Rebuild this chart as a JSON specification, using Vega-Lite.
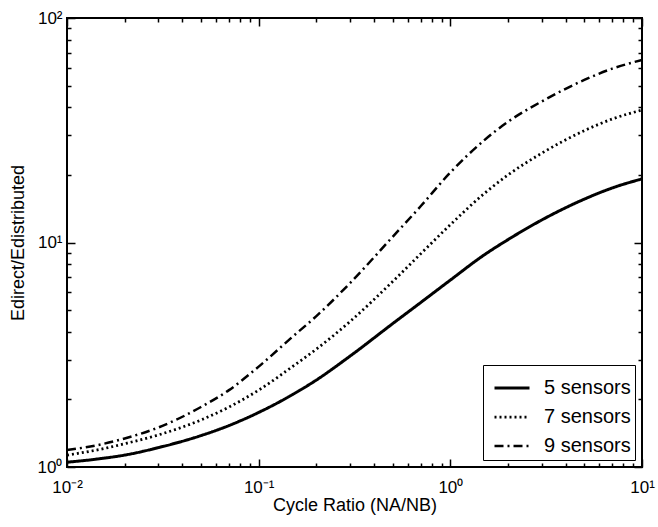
{
  "$schema": "https://vega.github.io/schema/vega-lite/v6.json",
  "width": 575,
  "height": 449,
  "autosize": "none",
  "padding": {"left": 67, "top": 18, "right": 16, "bottom": 60},
  "background": "white",
  "config": {
    "font": "Liberation Sans",
    "view": {"stroke": "black", "strokeWidth": 2},
    "axis": {"grid": false, "domain": false, "labelColor": "black", "titleColor": "black", "labelFontSize": 17, "titleFontSize": 18, "titleFontWeight": "normal", "tickColor": "black", "tickWidth": 1.5},
    "legend": {"orient": "bottom-right", "offset": 7, "strokeColor": "black", "fillColor": "white", "padding": 4, "symbolType": "stroke", "symbolSize": 1225, "symbolStrokeColor": "black", "symbolOffset": 6, "labelFontSize": 20, "labelColor": "black", "labelOffset": 13, "rowPadding": -14, "title": null}
  },
  "data": {"values": [
    {"ratio": 0.01, "e": 1.05, "series": "5 sensors"},
    {"ratio": 0.015, "e": 1.09, "series": "5 sensors"},
    {"ratio": 0.02, "e": 1.13, "series": "5 sensors"},
    {"ratio": 0.03, "e": 1.22, "series": "5 sensors"},
    {"ratio": 0.05, "e": 1.38, "series": "5 sensors"},
    {"ratio": 0.07, "e": 1.53, "series": "5 sensors"},
    {"ratio": 0.1, "e": 1.75, "series": "5 sensors"},
    {"ratio": 0.15, "e": 2.1, "series": "5 sensors"},
    {"ratio": 0.2, "e": 2.44, "series": "5 sensors"},
    {"ratio": 0.3, "e": 3.12, "series": "5 sensors"},
    {"ratio": 0.5, "e": 4.35, "series": "5 sensors"},
    {"ratio": 0.7, "e": 5.4, "series": "5 sensors"},
    {"ratio": 1, "e": 6.8, "series": "5 sensors"},
    {"ratio": 1.5, "e": 8.8, "series": "5 sensors"},
    {"ratio": 2, "e": 10.3, "series": "5 sensors"},
    {"ratio": 3, "e": 12.6, "series": "5 sensors"},
    {"ratio": 5, "e": 15.6, "series": "5 sensors"},
    {"ratio": 7, "e": 17.5, "series": "5 sensors"},
    {"ratio": 10, "e": 19.2, "series": "5 sensors"},
    {"ratio": 0.01, "e": 1.13, "series": "7 sensors"},
    {"ratio": 0.015, "e": 1.2, "series": "7 sensors"},
    {"ratio": 0.02, "e": 1.27, "series": "7 sensors"},
    {"ratio": 0.03, "e": 1.39, "series": "7 sensors"},
    {"ratio": 0.05, "e": 1.62, "series": "7 sensors"},
    {"ratio": 0.07, "e": 1.85, "series": "7 sensors"},
    {"ratio": 0.1, "e": 2.2, "series": "7 sensors"},
    {"ratio": 0.15, "e": 2.8, "series": "7 sensors"},
    {"ratio": 0.2, "e": 3.35, "series": "7 sensors"},
    {"ratio": 0.3, "e": 4.45, "series": "7 sensors"},
    {"ratio": 0.5, "e": 6.7, "series": "7 sensors"},
    {"ratio": 0.7, "e": 8.9, "series": "7 sensors"},
    {"ratio": 1, "e": 12.0, "series": "7 sensors"},
    {"ratio": 1.5, "e": 16.5, "series": "7 sensors"},
    {"ratio": 2, "e": 20.0, "series": "7 sensors"},
    {"ratio": 3, "e": 25.0, "series": "7 sensors"},
    {"ratio": 5, "e": 31.5, "series": "7 sensors"},
    {"ratio": 7, "e": 35.5, "series": "7 sensors"},
    {"ratio": 10, "e": 38.9, "series": "7 sensors"},
    {"ratio": 0.01, "e": 1.19, "series": "9 sensors"},
    {"ratio": 0.015, "e": 1.26, "series": "9 sensors"},
    {"ratio": 0.02, "e": 1.34, "series": "9 sensors"},
    {"ratio": 0.03, "e": 1.5, "series": "9 sensors"},
    {"ratio": 0.05, "e": 1.85, "series": "9 sensors"},
    {"ratio": 0.07, "e": 2.2, "series": "9 sensors"},
    {"ratio": 0.1, "e": 2.8, "series": "9 sensors"},
    {"ratio": 0.15, "e": 3.8, "series": "9 sensors"},
    {"ratio": 0.2, "e": 4.7, "series": "9 sensors"},
    {"ratio": 0.3, "e": 6.6, "series": "9 sensors"},
    {"ratio": 0.5, "e": 10.6, "series": "9 sensors"},
    {"ratio": 0.7, "e": 14.5, "series": "9 sensors"},
    {"ratio": 1, "e": 20.5, "series": "9 sensors"},
    {"ratio": 1.5, "e": 28.5, "series": "9 sensors"},
    {"ratio": 2, "e": 34.5, "series": "9 sensors"},
    {"ratio": 3, "e": 42.5, "series": "9 sensors"},
    {"ratio": 5, "e": 53.0, "series": "9 sensors"},
    {"ratio": 7, "e": 59.5, "series": "9 sensors"},
    {"ratio": 10, "e": 65.0, "series": "9 sensors"}
  ]},
  "layer": [
    {
      "mark": {"type": "line", "interpolate": "monotone", "color": "black", "strokeCap": "butt"},
      "encoding": {
        "x": {"field": "ratio", "type": "quantitative", "scale": {"type": "log", "domain": [0.01, 10]},
          "axis": {"orient": "bottom", "values": [0.01, 0.1, 1, 10], "labelExpr": "datum.value == 0.01 ? '10⁻²' : datum.value == 0.1 ? '10⁻¹' : datum.value == 1 ? '10⁰' : '10¹'", "ticks": false, "labelPadding": 12, "labelFlush": false, "title": "Cycle Ratio (NA/NB)", "titlePadding": 1}},
        "y": {"field": "e", "type": "quantitative", "scale": {"type": "log", "domain": [1, 100]},
          "axis": {"orient": "left", "values": [1, 10, 100], "labelExpr": "datum.value == 1 ? '10⁰' : datum.value == 10 ? '10¹' : '10²'", "ticks": false, "labelPadding": 5, "title": "Edirect/Edistributed", "titlePadding": 10}},
        "strokeDash": {"field": "series", "type": "nominal", "scale": {"domain": ["5 sensors", "7 sensors", "9 sensors"], "range": [[1, 0], [2, 3], [9, 4, 2, 4]]},
          "legend": {"labelExpr": "datum.label + '\u00a0\u00a0'"}},
        "strokeWidth": {"field": "series", "type": "nominal", "scale": {"domain": ["5 sensors", "7 sensors", "9 sensors"], "range": [3, 2.5, 3]},
          "legend": {"labelExpr": "datum.label + '\u00a0\u00a0'"}}
      }
    },
    {
      "mark": {"type": "point", "opacity": 0},
      "encoding": {
        "x": {"field": "ratio", "type": "quantitative", "scale": {"type": "log", "domain": [0.01, 10]},
          "axis": {"orient": "bottom", "values": [0.01,0.02,0.03,0.04,0.05,0.06,0.07,0.08,0.09,0.1,0.2,0.3,0.4,0.5,0.6,0.7,0.8,0.9,1,2,3,4,5,6,7,8,9,10], "labels": false, "title": null, "tickSize": {"condition": {"test": "indexof([0.01,0.1,1,10], datum.value) >= 0", "value": -8}, "value": -4}}},
        "y": {"field": "e", "type": "quantitative", "scale": {"type": "log", "domain": [1, 100]},
          "axis": {"orient": "left", "values": [1,2,3,4,5,6,7,8,9,10,20,30,40,50,60,70,80,90,100], "labels": false, "title": null, "tickSize": {"condition": {"test": "indexof([1,10,100], datum.value) >= 0", "value": -8}, "value": -4}}}
      }
    },
    {
      "mark": {"type": "point", "opacity": 0},
      "encoding": {
        "x": {"field": "ratio", "type": "quantitative", "scale": {"type": "log", "domain": [0.01, 10]},
          "axis": {"orient": "top", "values": [0.01,0.02,0.03,0.04,0.05,0.06,0.07,0.08,0.09,0.1,0.2,0.3,0.4,0.5,0.6,0.7,0.8,0.9,1,2,3,4,5,6,7,8,9,10], "labels": false, "title": null, "tickSize": {"condition": {"test": "indexof([0.01,0.1,1,10], datum.value) >= 0", "value": -8}, "value": -4}}},
        "y": {"field": "e", "type": "quantitative", "scale": {"type": "log", "domain": [1, 100]},
          "axis": {"orient": "right", "values": [1,2,3,4,5,6,7,8,9,10,20,30,40,50,60,70,80,90,100], "labels": false, "title": null, "tickSize": {"condition": {"test": "indexof([1,10,100], datum.value) >= 0", "value": -8}, "value": -4}}}
      }
    }
  ],
  "resolve": {"axis": {"x": "independent", "y": "independent"}}
}
